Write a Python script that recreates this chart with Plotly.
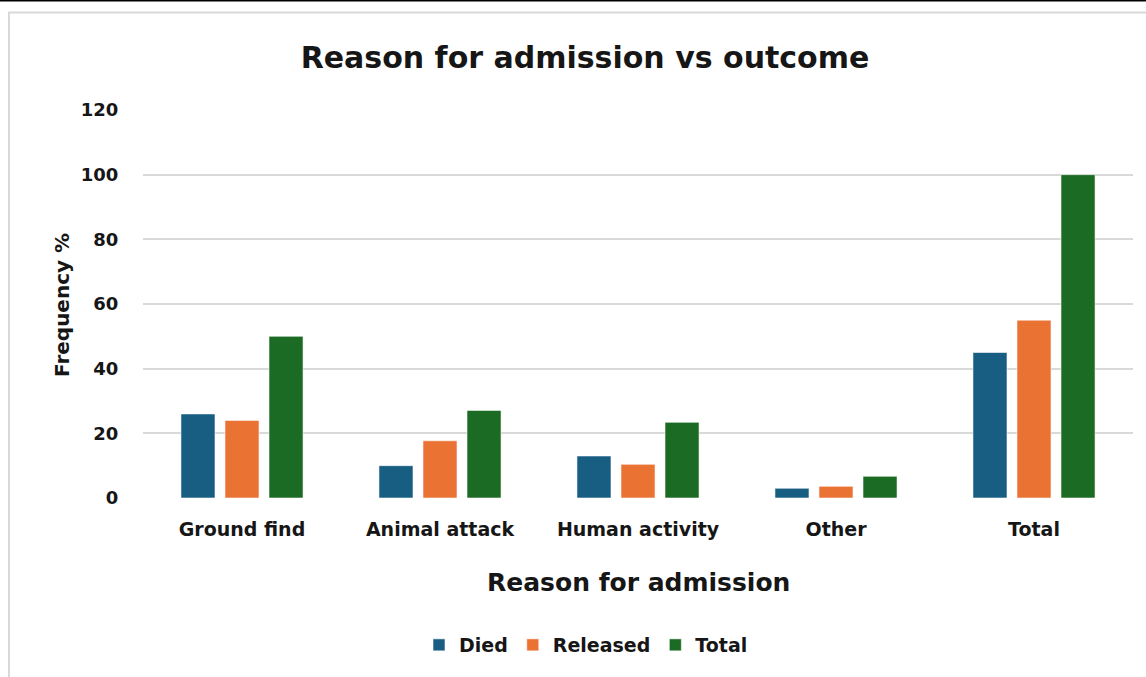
import plotly.graph_objects as go

# Admission reasons and outcome shares (%)
reasons = ["Ground find", "Animal attack", "Human activity", "Other", "Total"]
died = [26, 10, 13, 3, 45]
released = [24, 17.7, 10.4, 3.6, 55]
total = [50, 27.1, 23.4, 6.7, 100]

y_ticks = [0, 20, 40, 60, 80, 100, 120]

FONT = "DejaVu Sans"
TXT = "#161616"

fig = go.Figure()
series = [
    ("Died", died, "#185E82"),
    ("Released", released, "#EA7233"),
    ("Total", total, "#1C6B24"),
]
for name, vals, col in series:
    fig.add_trace(go.Bar(
        x=reasons, y=vals, name=name,
        marker=dict(color=col, line=dict(color="rgba(255,255,255,0.55)", width=1)),
    ))

W, H = 1146, 677
L, R, T, B = 143, 13, 110, 179
pw, ph = W - L - R, H - T - B


def px(x):
    return (x - L) / pw


def py(y):
    return (H - B - y) / ph


fig.update_layout(
    width=W, height=H,
    margin=dict(l=L, r=R, t=T, b=B),
    paper_bgcolor="white", plot_bgcolor="white",
    barmode="group", bargap=0.333, bargroupgap=0.227,
    font=dict(family=FONT, color=TXT, weight="bold"),
    title=dict(text="Reason for admission vs outcome", x=585 / W, xanchor="center",
               y=1 - 57 / H, yanchor="middle",
               font=dict(size=30, family=FONT, color=TXT, weight="bold")),
    xaxis=dict(showgrid=False, showline=False, zeroline=False,
               ticks="outside", ticklen=14, tickcolor="rgba(0,0,0,0)",
               tickfont=dict(size=19, family=FONT, color=TXT, weight="bold")),
    yaxis=dict(range=[0, 120], tickvals=y_ticks, showgrid=True, gridcolor="#d9d9d9", gridwidth=1.5,
               zeroline=False, showline=False,
               ticks="outside", ticklen=20, tickcolor="rgba(0,0,0,0)",
               tickfont=dict(size=18, family=FONT, color=TXT, weight="bold")),
    legend=dict(orientation="h", x=px(586), xanchor="center", y=py(645), yanchor="middle",
                font=dict(size=19, family=FONT, color=TXT, weight="bold"), itemwidth=30,
                traceorder="normal"),
    annotations=[
        dict(text="Reason for admission", xref="paper", yref="paper",
             x=px(638), y=py(582), xanchor="center", yanchor="middle", showarrow=False,
             font=dict(size=25, family=FONT, color=TXT, weight="bold")),
        dict(text="Frequency %", xref="paper", yref="paper",
             x=px(62), y=py(305), xanchor="center", yanchor="middle", showarrow=False,
             textangle=-90, font=dict(size=20, family=FONT, color=TXT, weight="bold")),
    ],
    shapes=[
        dict(type="rect", xref="paper", yref="paper",
             x0=px(9), x1=px(1160), y0=py(700), y1=py(12.5),
             line=dict(color="#d9d9d9", width=2), layer="below"),
        dict(type="line", xref="paper", yref="paper",
             x0=px(-5), x1=px(1160), y0=py(0.5), y1=py(0.5),
             line=dict(color="black", width=2)),
    ],
)

fig.write_html("out.html")
